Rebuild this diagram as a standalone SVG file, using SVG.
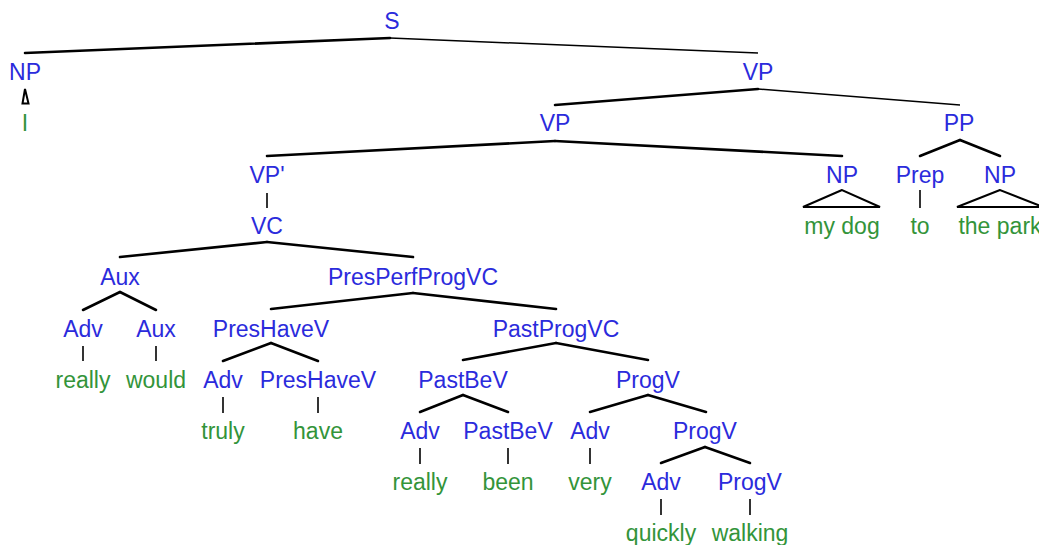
<svg xmlns="http://www.w3.org/2000/svg" width="1039" height="545" viewBox="0 0 1039 545">
<style>
.n{font-family:"Liberation Sans",Arial,sans-serif;font-size:23px;fill:#2b2bdc;text-anchor:middle}
.t{font-family:"Liberation Sans",Arial,sans-serif;font-size:23px;fill:#33943a;text-anchor:middle}
.e{stroke:#000;stroke-width:2.6;fill:none;stroke-linecap:round}
.th{stroke:#000;stroke-width:1.5;fill:none}
.u{stroke:#000;stroke-width:1.6;fill:none}
.tri{stroke:#000;stroke-width:2;fill:none;stroke-linejoin:miter}
</style>
<rect width="1039" height="545" fill="#fff"/>
<g id="connectors">
<line class="e" x1="390" y1="38" x2="25" y2="53"/>
<line class="th" x1="390" y1="38" x2="758" y2="53"/>
<polygon class="tri" points="25,89 22.5,103.5 28.5,103.5"/>
<line class="e" x1="758" y1="89" x2="555" y2="105"/>
<line class="th" x1="758" y1="89" x2="960" y2="105"/>
<line class="e" x1="555" y1="141" x2="267" y2="156"/>
<line class="e" x1="555" y1="141" x2="842" y2="156"/>
<line class="e" x1="960" y1="140" x2="920" y2="156"/>
<line class="e" x1="960" y1="140" x2="1000" y2="156"/>
<polygon class="tri" points="842,190 803,207 880,207"/>
<line class="u" x1="920" y1="190" x2="920" y2="208"/>
<polygon class="tri" points="1000,190 957,207 1043,207"/>
<line class="u" x1="267" y1="193" x2="267" y2="208"/>
<line class="e" x1="267" y1="242" x2="120" y2="257"/>
<line class="e" x1="267" y1="242" x2="413" y2="257"/>
<line class="e" x1="120" y1="292" x2="83" y2="310"/>
<line class="e" x1="120" y1="292" x2="156" y2="310"/>
<line class="e" x1="413" y1="293" x2="271" y2="309"/>
<line class="e" x1="413" y1="293" x2="556" y2="309"/>
<line class="u" x1="83" y1="346" x2="83" y2="361"/>
<line class="u" x1="156" y1="346" x2="156" y2="361"/>
<line class="e" x1="271" y1="343" x2="223" y2="361"/>
<line class="e" x1="271" y1="343" x2="318" y2="361"/>
<line class="e" x1="556" y1="343" x2="463" y2="360"/>
<line class="e" x1="556" y1="343" x2="648" y2="360"/>
<line class="u" x1="223" y1="397" x2="223" y2="413"/>
<line class="u" x1="318" y1="397" x2="318" y2="413"/>
<line class="e" x1="463" y1="395" x2="420" y2="412"/>
<line class="e" x1="463" y1="395" x2="508" y2="412"/>
<line class="e" x1="648" y1="395" x2="590" y2="412"/>
<line class="e" x1="648" y1="395" x2="706" y2="412"/>
<line class="u" x1="420" y1="448" x2="420" y2="464"/>
<line class="u" x1="508" y1="448" x2="508" y2="464"/>
<line class="u" x1="590" y1="448" x2="590" y2="464"/>
<line class="e" x1="705" y1="447" x2="661" y2="463"/>
<line class="e" x1="705" y1="447" x2="750" y2="463"/>
<line class="u" x1="661" y1="499" x2="661" y2="515"/>
<line class="u" x1="750" y1="499" x2="750" y2="515"/>
</g>
<g id="n-S"><text class="n" x="392" y="29">S</text></g>
<g id="n-NP1"><text class="n" x="25" y="80">NP</text></g>
<g id="n-VP1"><text class="n" x="758" y="80">VP</text></g>
<g id="n-I"><text class="t" x="25" y="131">I</text></g>
<g id="n-VP2"><text class="n" x="555" y="131">VP</text></g>
<g id="n-PP"><text class="n" x="959" y="131">PP</text></g>
<g id="n-VPp"><text class="n" x="267" y="183">VP'</text></g>
<g id="n-NP2"><text class="n" x="842" y="183">NP</text></g>
<g id="n-Prep"><text class="n" x="920" y="183">Prep</text></g>
<g id="n-NP3"><text class="n" x="1000" y="183">NP</text></g>
<g id="n-VC"><text class="n" x="267" y="234">VC</text></g>
<g id="n-mydog"><text class="t" x="842" y="234">my dog</text></g>
<g id="n-to"><text class="t" x="920" y="234">to</text></g>
<g id="n-thepark"><text class="t" x="1000" y="234">the park</text></g>
<g id="n-Aux1"><text class="n" x="120" y="285">Aux</text></g>
<g id="n-PPPVC"><text class="n" x="413" y="285">PresPerfProgVC</text></g>
<g id="n-Adv1"><text class="n" x="83" y="337">Adv</text></g>
<g id="n-Aux2"><text class="n" x="156" y="337">Aux</text></g>
<g id="n-PHV1"><text class="n" x="271" y="337">PresHaveV</text></g>
<g id="n-PPVC"><text class="n" x="556" y="337">PastProgVC</text></g>
<g id="n-really1"><text class="t" x="83" y="388">really</text></g>
<g id="n-would"><text class="t" x="156" y="388">would</text></g>
<g id="n-Adv2"><text class="n" x="223" y="388">Adv</text></g>
<g id="n-PHV2"><text class="n" x="318" y="388">PresHaveV</text></g>
<g id="n-PBV1"><text class="n" x="463" y="388">PastBeV</text></g>
<g id="n-PV1"><text class="n" x="648" y="388">ProgV</text></g>
<g id="n-truly"><text class="t" x="223" y="439">truly</text></g>
<g id="n-have"><text class="t" x="318" y="439">have</text></g>
<g id="n-Adv3"><text class="n" x="420" y="439">Adv</text></g>
<g id="n-PBV2"><text class="n" x="508" y="439">PastBeV</text></g>
<g id="n-Adv4"><text class="n" x="590" y="439">Adv</text></g>
<g id="n-PV2"><text class="n" x="705" y="439">ProgV</text></g>
<g id="n-really2"><text class="t" x="420" y="490">really</text></g>
<g id="n-been"><text class="t" x="508" y="490">been</text></g>
<g id="n-very"><text class="t" x="590" y="490">very</text></g>
<g id="n-Adv5"><text class="n" x="661" y="490">Adv</text></g>
<g id="n-PV3"><text class="n" x="750" y="490">ProgV</text></g>
<g id="n-quickly"><text class="t" x="661" y="541">quickly</text></g>
<g id="n-walking"><text class="t" x="750" y="541">walking</text></g>
</svg>
